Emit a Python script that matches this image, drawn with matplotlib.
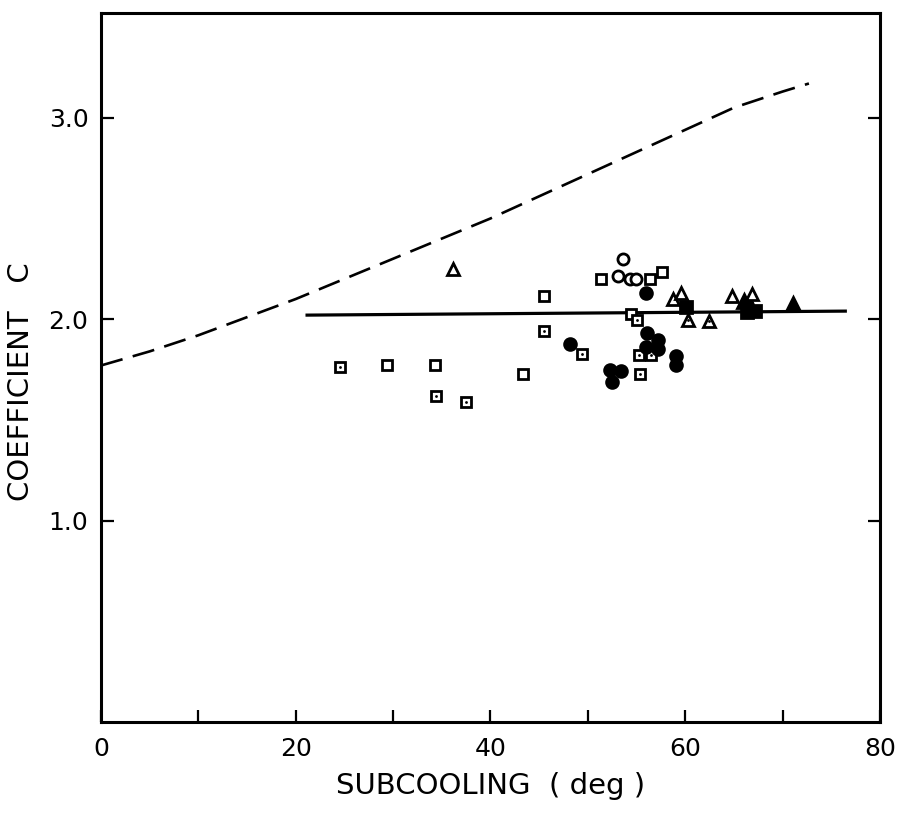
import numpy as np
import matplotlib
matplotlib.use('Agg')
import matplotlib.pyplot as plt

# Dashed curve
curve_x = [0, 5, 10, 15, 20, 25, 30, 35, 40, 45, 50, 55, 60, 65, 70, 72.7]
curve_y = [1.77, 1.84, 1.92, 2.01, 2.10, 2.20, 2.30, 2.40, 2.50, 2.61, 2.72, 2.83, 2.94, 3.05, 3.13, 3.17]

# Solid mean line
line_x = [21.0, 76.6]
line_y = [2.02, 2.04]

# Data points by symbol
open_sq_x = [29.4, 34.3, 43.3, 45.5, 51.3, 56.4, 57.6, 54.4]
open_sq_y = [1.77, 1.77, 1.73, 2.115, 2.20, 2.20, 2.235, 2.025]

dot_sq_x = [24.5, 34.4, 37.5, 45.5, 49.4, 55.0, 55.3, 56.5, 55.4]
dot_sq_y = [1.76, 1.62, 1.59, 1.94, 1.825, 1.995, 1.82, 1.82, 1.73]

open_circ_x = [53.6, 53.1, 54.3, 54.9]
open_circ_y = [2.30, 2.215, 2.20, 2.20]

fill_circ_x = [56.0, 56.1, 57.2, 56.0, 57.2, 48.2, 59.0, 59.0, 52.3, 53.4, 52.5, 66.3]
fill_circ_y = [2.13, 1.93, 1.895, 1.86, 1.85, 1.875, 1.815, 1.77, 1.75, 1.745, 1.69, 2.07]

open_tri_x = [36.2, 58.7, 59.6, 64.8, 66.9]
open_tri_y = [2.25, 2.10, 2.13, 2.115, 2.125]

dot_tri_x = [60.3, 62.4]
dot_tri_y = [1.995, 1.99]

fill_sq_x = [60.1, 66.3, 67.2]
fill_sq_y = [2.06, 2.035, 2.04]

fill_tri_x = [66.0, 71.1]
fill_tri_y = [2.09, 2.075]

plt.rcParams['font.family'] = ['DejaVu Sans']

fig = plt.figure(figsize=(9.04, 8.14), dpi=100)
ax = fig.add_axes([101/904, 92/814, 779/904, 709/814])

ax.plot(curve_x, curve_y, color='k', lw=1.9, dashes=(8.5, 4))
ax.plot(line_x, line_y, color='k', lw=2.3, solid_capstyle='butt')

mk = dict(linestyle='none', color='k', mew=2.0)
ax.plot(open_sq_x, open_sq_y, marker='s', ms=7.5, mfc='white', **mk)
ax.plot(dot_sq_x, dot_sq_y, marker='s', ms=7.5, mfc='white', **mk)
ax.plot(dot_sq_x, dot_sq_y, marker='o', ms=2.0, mfc='k', mew=0, linestyle='none')
ax.plot(open_circ_x, open_circ_y, marker='o', ms=8, mfc='white', **mk)
ax.plot(fill_circ_x, fill_circ_y, marker='o', ms=8.5, mfc='k', **mk)
ax.plot(open_tri_x, open_tri_y, marker='^', ms=9, mfc='white', **mk)
ax.plot(dot_tri_x, dot_tri_y, marker='^', ms=9, mfc='white', **mk)
ax.plot(dot_tri_x, dot_tri_y, marker='o', ms=2.0, mfc='k', mew=0, linestyle='none')
ax.plot(fill_sq_x, fill_sq_y, marker='s', ms=8, mfc='k', **mk)
ax.plot(fill_tri_x, fill_tri_y, marker='^', ms=9.5, mfc='k', **mk)

ax.set_xlim(0, 80)
ax.set_ylim(0, 3.52)

ax.set_xticks([0, 20, 40, 60, 80])
ax.set_xticks([10, 30, 50, 70], minor=True)
ax.set_yticks([1, 2, 3])
ax.set_yticklabels(['1.0', '2.0', '3.0'])

ax.tick_params(axis='both', which='both', direction='in', width=1.6,
               length=9, labelsize=18, color='k')
ax.tick_params(axis='x', which='both', pad=11)
ax.tick_params(axis='y', which='both', pad=9, right=True)

for s in ax.spines.values():
    s.set_linewidth(2.2)

ax.set_xlabel('SUBCOOLING  ( deg )', fontsize=21, labelpad=8)
ax.set_ylabel('COEFFICIENT   C', fontsize=21)
ax.yaxis.set_label_coords(-0.085, 0.48)

fig.savefig('out.png', dpi=100)
